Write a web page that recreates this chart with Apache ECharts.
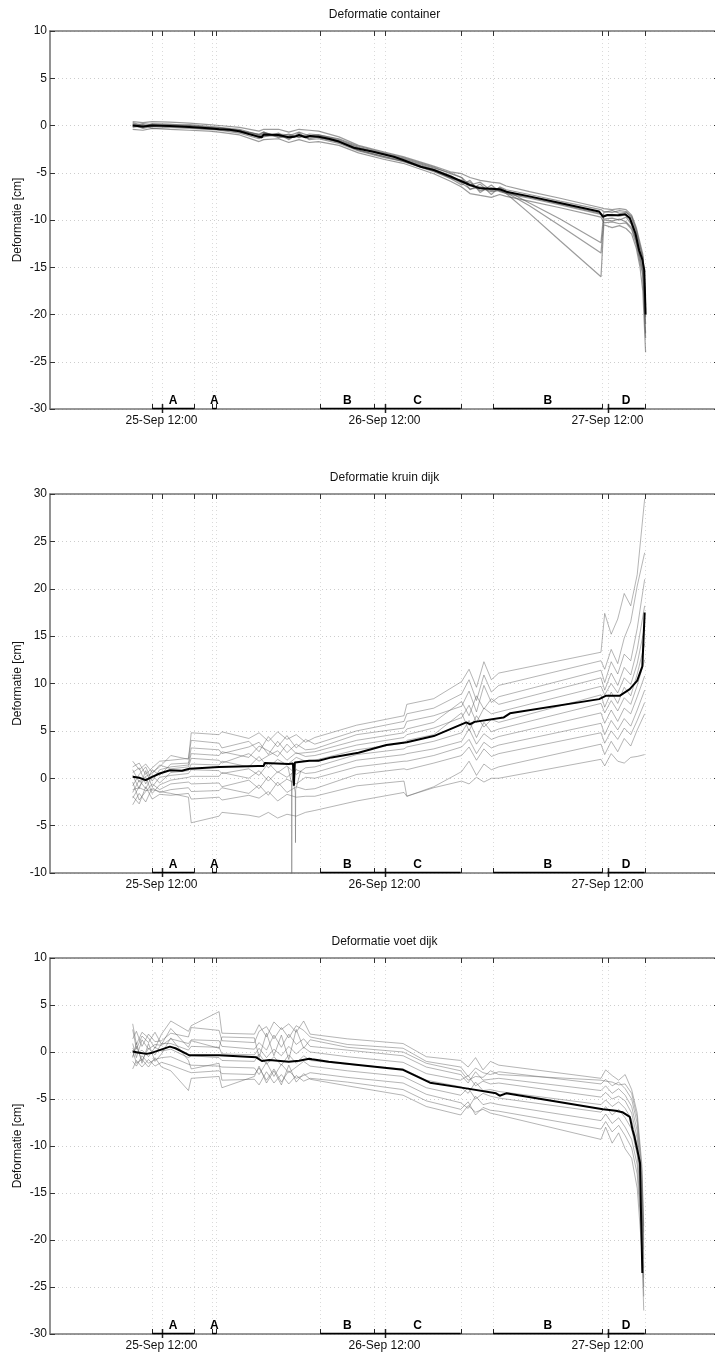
<!DOCTYPE html>
<html>
<head>
<meta charset="utf-8">
<script src="https://cdn.jsdelivr.net/npm/echarts@6/dist/echarts.min.js"></script>
<style>
  html, body { margin: 0; padding: 0; overflow: hidden; background: #fff; }
  #chart { width: 722px; height: 1355px; }
</style>
</head>
<body>
<div id="chart"></div>
<script>
// Time is expressed in hours since 25-Sep 00:00.
const xTickHours = [11, 12, 15.5, 17.45, 17.9, 29.1, 34.9, 36, 44.2, 47.7, 59.45, 60, 64];
const xLabelHours = [12, 36, 60];
const xLabelTexts = ['25-Sep 12:00', '26-Sep 12:00', '27-Sep 12:00'];

// Test phases drawn as brackets along the bottom axis
const phaseNames = ['A', 'A', 'B', 'C', 'B', 'D'];
const phaseStarts = [11, 17.45, 29.1, 34.9, 47.7, 60];
const phaseEnds = [15.5, 17.9, 34.9, 44.2, 59.45, 64];

const panelTitles = ['Deformatie container', 'Deformatie kruin dijk', 'Deformatie voet dijk'];
const yAxisName = 'Deformatie [cm]';

// ---------- Deformatie container ----------
const containerMeanTimes = [8.9,10.0,11.0,12.9,15.0,17.1,18.2,19.3,20.4,21.4,22.5,22.8,23.0,24.6,25.7,26.3,26.8,27.5,28.0,28.9,30.0,31.1,32.7,34.8,37.0,38.0,39.9,41.3,43.1,45.2,46.3,48.4,49.1,51.6,54.9,59.1,59.5,60.0,61.1,61.9,62.4,63.0,63.4,63.75,63.96,64.1];
const containerMean = [0.0,-0.1,0.0,-0.05,-0.15,-0.3,-0.4,-0.45,-0.6,-0.9,-1.2,-1.25,-0.95,-1.0,-1.25,-1.2,-1.0,-1.25,-1.1,-1.2,-1.4,-1.7,-2.35,-2.77,-3.3,-3.65,-4.36,-4.71,-5.4,-6.3,-6.65,-6.75,-7.0,-7.5,-8.2,-9.1,-9.65,-9.47,-9.5,-9.4,-9.8,-11.4,-13.2,-14.2,-15.3,-20.0];
const containerTimes = [8.9,10.0,11.0,12.9,15.0,17.1,18.2,20.4,22.5,23.0,24.6,25.7,26.8,27.9,28.9,31.1,33.2,36.0,38.0,41.3,43.1,44.3,45.2,46.3,47.5,48.4,49.1,51.6,54.9,59.3,59.6,60.5,61.3,62.0,62.6,63.1,63.5,63.8,64.1];
const containerSensor1 = [0.4,0.3,0.4,0.35,0.25,0.1,0.0,-0.2,-0.6,-0.4,-0.4,-0.7,-0.4,-0.5,-0.6,-1.2,-2.1,-2.8,-3.3,-4.3,-4.9,-5.1,-5.5,-5.8,-6.0,-6.1,-6.4,-7.0,-7.7,-8.7,-8.8,-8.9,-8.8,-8.9,-9.5,-10.8,-12.4,-13.6,-18.0];
const containerSensor2 = [-0.4,-0.5,-0.3,-0.4,-0.5,-0.6,-0.7,-1.0,-1.7,-1.5,-1.4,-1.8,-1.5,-1.8,-1.7,-2.1,-2.9,-3.6,-4.0,-5.1,-5.9,-6.5,-7.2,-7.4,-7.6,-7.3,-7.5,-8.0,-8.7,-9.7,-10.3,-10.2,-10.4,-10.3,-11.0,-12.6,-14.5,-15.8,-22.0];
const containerSensor3 = [0.2,-0.2,0.2,0.15,0.0,-0.2,-0.2,-0.4,-1.0,-0.7,-1.2,-0.9,-1.3,-0.9,-1.0,-1.5,-2.3,-3.0,-3.5,-4.5,-5.0,-5.5,-6.8,-6.2,-7.3,-6.5,-6.8,-7.3,-8.0,-8.9,-9.1,-9.2,-9.0,-9.1,-9.8,-11.2,-12.9,-14.0,-19.0];
const containerSensor4 = [-0.2,0.1,-0.3,-0.2,-0.3,-0.4,-0.5,-0.8,-1.4,-1.2,-0.8,-1.5,-0.8,-1.5,-1.4,-1.9,-2.7,-3.4,-3.8,-4.9,-5.6,-6.3,-5.8,-7.1,-6.3,-7.0,-7.2,-7.7,-8.4,-9.4,-9.9,-9.8,-10.0,-9.7,-10.5,-12.1,-13.9,-15.2,-21.0];
const containerSensor5 = [0.1,-0.3,-0.1,0.0,-0.1,-0.3,-0.3,-0.5,-1.3,-0.8,-1.1,-1.2,-1.1,-1.3,-1.1,-1.6,-2.4,-3.1,-3.6,-4.6,-5.3,-6.0,-6.0,-6.9,-6.6,-6.8,-7.1,-7.6,-8.3,-9.3,-9.5,-9.4,-9.6,-9.4,-10.1,-11.6,-13.3,-14.6,-20.3];
const containerSensor6 = [0.3,0.0,0.1,0.1,0.0,-0.2,-0.3,-0.5,-1.0,-1.0,-0.9,-1.0,-1.2,-1.1,-1.3,-1.7,-2.6,-3.3,-3.8,-4.8,-5.5,-6.1,-6.7,-6.6,-7.0,-6.9,-7.2,-9.3,-12.2,-16.0,-10.5,-10.8,-10.6,-10.9,-11.5,-13.0,-15.0,-17.5,-24.0];
const containerSensor7 = [-0.1,-0.2,0.0,-0.1,-0.2,-0.4,-0.4,-0.7,-1.1,-1.1,-1.1,-1.4,-1.0,-1.4,-1.2,-1.8,-2.6,-3.3,-3.7,-4.7,-5.6,-5.8,-6.4,-6.5,-6.8,-6.9,-7.1,-8.5,-10.6,-13.5,-10.0,-10.1,-9.9,-10.2,-10.8,-12.3,-14.1,-15.5,-22.5];
const containerSensor8 = [0.0,0.2,0.1,-0.1,0.1,-0.1,-0.2,-0.6,-0.9,-0.7,-1.3,-1.1,-0.7,-1.1,-1.0,-1.4,-2.2,-2.9,-3.4,-4.4,-5.1,-5.5,-6.3,-6.0,-6.9,-6.6,-6.9,-8.2,-9.9,-12.4,-9.2,-9.0,-9.3,-9.2,-9.6,-11.0,-12.7,-13.9,-19.5];

// ---------- Deformatie kruin dijk ----------
const kruinMeanTimes = [8.9,9.6,10.3,11.0,11.8,12.9,14.2,15.0,18.2,22.4,23.0,23.1,25.7,26.15,26.25,26.35,27.9,28.9,30.3,33.2,36.2,38.4,41.3,44.8,45.2,45.7,48.8,49.5,59.1,59.8,61.3,62.4,63.2,63.75,64.0];
const kruinMean = [0.15,0.05,-0.2,0.15,0.5,0.85,0.8,1.0,1.2,1.3,1.3,1.6,1.5,1.55,-0.8,1.65,1.85,1.85,2.2,2.7,3.5,3.8,4.45,5.9,5.7,5.95,6.4,6.85,8.35,8.7,8.7,9.4,10.3,11.8,17.5];
const kruinTimes = [8.9,9.6,10.3,11.0,11.8,13.0,14.9,15.2,18.2,18.5,21.4,22.5,23.5,24.5,25.5,26.5,27.5,28.5,33.0,38.1,38.4,41.3,44.3,45.1,45.9,46.7,47.5,48.3,59.3,59.7,60.4,61.1,61.8,62.5,63.2,64.0];
const kruinSensor1 = [1.8,0.9,1.5,0.6,1.2,2.4,2.0,4.8,4.6,4.9,4.2,4.8,3.9,4.9,4.1,4.6,3.8,4.3,5.6,6.6,7.8,8.4,10.2,11.5,9.6,12.3,10.4,11.1,13.3,17.4,15.2,16.8,19.5,18.2,21.5,29.5];
const kruinSensor2 = [1.2,1.6,0.4,1.1,1.8,1.9,2.1,4.0,3.7,3.2,3.9,2.8,4.4,3.3,4.5,3.2,4.1,3.6,5.0,6.0,6.8,7.4,8.9,10.4,8.2,10.9,9.1,9.8,12.4,11.5,13.6,12.1,14.8,16.5,20.3,23.8];
const kruinSensor3 = [0.6,1.1,-0.6,0.9,0.3,1.5,1.6,3.2,3.0,2.6,3.3,3.8,2.5,3.9,2.7,3.6,3.0,3.1,4.6,5.3,6.0,6.6,7.6,9.2,7.0,9.8,8.0,8.6,11.4,10.1,12.3,11.0,13.1,12.4,15.8,21.0];
const kruinSensor4 = [-0.8,0.4,1.2,-0.3,0.9,1.2,1.4,2.6,2.4,2.8,2.2,3.4,2.9,2.3,3.6,2.6,2.7,2.8,4.0,4.8,5.2,5.9,8.1,6.6,8.7,7.3,8.4,7.8,10.6,9.3,11.1,9.8,11.7,10.9,13.6,18.2];
const kruinSensor5 = [0.9,-0.4,0.2,0.5,1.4,1.0,1.2,2.1,1.9,1.6,2.6,1.8,2.4,2.9,1.9,2.7,2.3,2.4,3.5,4.3,4.6,5.3,6.4,7.7,5.9,7.4,6.8,7.0,9.7,8.8,10.0,9.0,10.6,9.9,12.1,16.0];
const kruinSensor6 = [-1.5,-0.2,-1.1,0.3,-0.5,0.6,0.8,1.5,1.4,1.8,1.2,2.3,1.1,2.0,1.4,2.2,1.8,1.9,3.0,3.7,4.0,4.6,6.9,5.0,6.6,5.4,6.2,5.9,8.8,7.5,9.1,7.9,9.6,8.7,11.0,14.2];
const kruinSensor7 = [0.3,-1.1,0.8,-0.9,0.1,0.3,0.5,0.9,0.8,0.5,1.0,0.3,1.6,0.6,1.3,0.4,1.1,1.2,2.5,3.1,3.3,3.9,4.8,6.1,4.3,5.9,4.9,5.2,7.9,6.9,8.2,7.1,8.5,7.8,9.8,12.5];
const kruinSensor8 = [-2.1,-0.9,0.1,-1.6,-0.7,-0.2,0.1,0.2,0.2,0.6,0.0,0.8,-0.3,0.7,0.1,0.9,0.5,0.6,1.9,2.5,2.6,3.1,3.9,5.2,3.6,4.7,4.1,4.4,6.9,5.8,7.2,6.0,7.4,6.8,8.6,10.8];
const kruinSensor9 = [-0.4,-2.3,-1.4,-0.6,-1.2,-0.6,-0.4,-0.6,-0.5,-0.9,-0.2,-1.1,0.2,-0.8,-0.1,-0.6,0.1,0.0,1.2,1.8,1.8,2.4,3.3,4.1,2.6,3.8,3.2,3.5,5.8,4.6,6.1,5.1,6.3,5.5,7.2,9.3];
const kruinSensor10 = [-2.8,-1.6,-2.5,-1.0,-1.5,-1.2,-1.0,-1.4,-1.3,-1.0,-1.6,-0.7,-1.8,-0.4,-1.5,-0.9,-1.2,-1.1,0.4,1.0,0.9,1.6,2.4,3.3,1.9,3.1,2.3,2.6,4.8,3.7,5.0,4.1,5.3,4.6,6.1,8.0];
const kruinSensor11 = [-1.9,-2.7,-0.9,-2.2,-1.7,-1.8,-1.6,-2.2,-2.0,-2.3,-1.8,-2.1,-1.4,-2.4,-1.7,-2.0,-1.9,-1.9,-0.8,-0.3,-1.9,-0.9,0.7,1.8,0.3,1.5,0.9,1.2,3.6,2.5,3.9,2.8,4.2,3.4,5.1,6.8];
const kruinSensor12 = [-1.2,-1.0,-1.3,-1.2,-1.4,-1.6,-2.0,-4.7,-4.0,-3.6,-3.9,-4.1,-3.6,-4.2,-3.8,-4.0,-3.6,-3.4,-2.4,-1.5,-1.9,-1.0,-0.3,-0.6,0.1,-0.4,0.0,0.0,2.0,1.3,2.6,1.8,1.6,2.2,2.3,2.5];
// two short sensor drop-outs
const kruinDropTimesA = [25.6, 26.0, 26.02, 26.04, 26.5];
const kruinDropValuesA = [1.2, -0.5, -16.0, -0.3, 1.0];
const kruinDropTimesB = [26.0, 26.4, 26.42, 26.44, 27.0];
const kruinDropValuesB = [0.5, -1.5, -6.8, -1.2, 0.8];

// ---------- Deformatie voet dijk ----------
const voetMeanTimes = [8.9,9.6,10.4,11.0,11.8,12.9,13.5,14.7,15.0,18.2,18.3,22.2,22.8,23.6,25.7,26.8,27.9,28.2,30.0,33.2,38.0,40.9,44.8,45.0,48.0,48.4,49.1,59.5,60.9,61.6,62.4,62.7,62.9,63.2,63.5,63.6,63.75];
const voetMean = [0.05,-0.07,-0.2,-0.07,0.2,0.57,0.4,-0.2,-0.35,-0.35,-0.5,-0.57,-0.96,-0.85,-1.03,-0.92,-0.71,-0.78,-1.03,-1.38,-1.9,-3.26,-3.87,-4.04,-4.4,-4.65,-4.4,-6.1,-6.24,-6.4,-6.9,-8.3,-9.0,-10.4,-11.8,-16.8,-23.5];
const voetTimes = [8.9,9.3,9.9,10.6,11.3,12.0,13.0,14.9,15.2,18.2,18.5,22.0,22.5,23.3,24.1,24.9,25.7,26.5,27.3,28.0,32.0,38.0,40.5,44.2,45.0,45.8,46.6,47.4,48.3,59.3,59.8,60.5,61.2,61.9,62.6,63.2,63.7,63.9];
const voetSensor1 = [3.0,0.8,2.1,1.5,0.4,1.9,3.3,2.2,2.8,4.3,2.0,1.9,2.9,1.6,3.2,2.4,3.0,2.1,3.3,1.9,1.4,0.9,-0.5,-0.9,-1.6,-0.6,-1.9,-1.0,-1.4,-2.8,-1.9,-2.5,-3.0,-2.4,-4.0,-6.5,-12.0,-18.5];
const voetSensor2 = [1.4,2.2,0.6,1.9,1.1,1.2,2.0,1.6,2.6,2.3,1.2,1.0,2.2,2.7,1.4,2.6,1.5,2.8,2.3,1.6,0.8,0.4,-1.0,-1.6,-2.6,-1.7,-2.2,-2.4,-2.1,-3.4,-2.9,-3.6,-3.2,-3.9,-5.0,-7.6,-13.4,-20.0];
const voetSensor3 = [0.9,-0.6,1.3,0.3,0.8,0.7,1.4,0.9,1.3,1.2,0.6,0.3,1.0,0.2,1.8,0.5,1.9,0.8,1.4,0.6,0.2,-0.4,-1.6,-2.4,-3.3,-2.1,-3.0,-2.9,-2.8,-4.1,-3.6,-4.4,-3.9,-4.6,-5.8,-8.4,-14.3,-21.0];
const voetSensor4 = [-0.5,0.6,-0.9,0.4,-0.3,0.9,0.9,0.2,0.6,0.5,-0.2,-0.3,0.4,-0.6,0.3,-0.4,0.6,-0.2,0.5,0.0,-0.5,-1.1,-2.3,-3.0,-2.5,-3.6,-3.1,-3.4,-3.3,-4.8,-4.3,-5.0,-4.7,-5.2,-6.5,-9.2,-15.0,-22.0];
const voetSensor5 = [0.4,-0.2,0.2,-0.5,0.5,0.1,0.3,-0.6,-0.4,-0.6,-0.9,-1.0,-0.2,-1.3,-0.5,-1.4,-0.3,-1.2,-0.4,-0.9,-1.3,-1.8,-3.0,-3.7,-4.4,-3.2,-4.1,-4.0,-4.2,-5.6,-5.1,-5.8,-5.3,-6.0,-7.2,-10.0,-16.0,-23.0];
const voetSensor6 = [-1.0,-1.5,-0.4,-1.2,-0.8,-0.6,-0.5,-1.3,-1.4,-1.5,-1.6,-1.7,-2.4,-1.1,-2.6,-1.3,-2.2,-1.6,-1.0,-1.5,-2.0,-2.6,-3.8,-4.6,-3.8,-5.0,-4.4,-4.7,-4.9,-6.4,-5.8,-6.7,-6.1,-7.0,-8.2,-11.0,-17.3,-24.0];
const voetSensor7 = [-1.8,-0.9,-1.6,-0.8,-1.5,-1.1,-1.4,-2.1,-2.2,-2.0,-2.3,-2.4,-1.7,-3.0,-1.8,-3.2,-2.0,-2.8,-2.5,-2.2,-2.7,-3.3,-4.5,-5.4,-6.0,-4.7,-5.6,-5.4,-5.6,-7.3,-6.6,-7.6,-7.0,-8.0,-9.3,-12.0,-18.6,-25.0];
const voetSensor8 = [-0.6,1.0,-1.2,0.9,-1.0,-0.2,1.5,-0.9,-1.8,-1.2,-3.0,-2.9,-3.5,-2.1,-3.3,-2.4,-3.4,-2.5,-3.1,-2.8,-3.2,-4.0,-5.2,-6.1,-5.3,-6.7,-5.9,-6.2,-6.3,-8.2,-7.4,-8.5,-7.8,-8.9,-10.2,-13.0,-19.8,-26.0];
const voetSensor9 = [0.2,-1.2,-0.8,-1.6,-0.6,-1.6,-2.0,-4.1,-2.8,-2.6,-3.8,-2.6,-1.5,-3.3,-2.0,-3.5,-1.4,-3.2,-2.3,-2.9,-3.6,-4.6,-5.8,-6.7,-5.7,-6.4,-6.1,-6.5,-6.7,-9.3,-8.0,-9.7,-8.6,-10.3,-11.3,-14.5,-21.2,-27.5];
const voetSensor10 = [2.4,0.3,1.7,1.0,2.1,0.8,2.5,0.5,1.2,0.4,1.6,1.5,-0.6,2.0,-0.4,1.8,-0.8,2.4,0.4,1.3,0.5,0.0,-1.2,-2.0,-3.0,-2.6,-2.7,-2.0,-2.4,-3.0,-3.1,-3.2,-3.5,-3.4,-4.4,-7.0,-12.6,-19.2];

// ---------- assembly ----------
const FONT = '"Liberation Sans", Arial, Helvetica, sans-serif';
const FONT_SIZE = 12;
const AXIS_COLOR = '#767676';
const TEXT_COLOR = '#111';
const GRID_COLOR = '#cdcdcd';
const VGRID_COLOR = '#dadada';

const panels = [
  { title: panelTitles[0], yMin: -30, yMax: 10, sensorStyle: 'rgba(90,90,90,0.6)', sensorWidth: 1.2,
    meanTimes: containerMeanTimes, mean: containerMean,
    sensors: [[containerTimes, containerSensor1], [containerTimes, containerSensor2], [containerTimes, containerSensor3],
              [containerTimes, containerSensor4], [containerTimes, containerSensor5], [containerTimes, containerSensor6],
              [containerTimes, containerSensor7], [containerTimes, containerSensor8]] },
  { title: panelTitles[1], yMin: -10, yMax: 30, sensorStyle: 'rgba(105,105,105,0.55)', sensorWidth: 0.9,
    meanTimes: kruinMeanTimes, mean: kruinMean,
    sensors: [[kruinTimes, kruinSensor1], [kruinTimes, kruinSensor2], [kruinTimes, kruinSensor3], [kruinTimes, kruinSensor4],
              [kruinTimes, kruinSensor5], [kruinTimes, kruinSensor6], [kruinTimes, kruinSensor7], [kruinTimes, kruinSensor8],
              [kruinTimes, kruinSensor9], [kruinTimes, kruinSensor10], [kruinTimes, kruinSensor11], [kruinTimes, kruinSensor12],
              [kruinDropTimesA, kruinDropValuesA], [kruinDropTimesB, kruinDropValuesB]] },
  { title: panelTitles[2], yMin: -30, yMax: 10, sensorStyle: 'rgba(105,105,105,0.55)', sensorWidth: 0.9,
    meanTimes: voetMeanTimes, mean: voetMean,
    sensors: [[voetTimes, voetSensor1], [voetTimes, voetSensor2], [voetTimes, voetSensor3], [voetTimes, voetSensor4],
              [voetTimes, voetSensor5], [voetTimes, voetSensor6], [voetTimes, voetSensor7], [voetTimes, voetSensor8],
              [voetTimes, voetSensor9], [voetTimes, voetSensor10]] }
];

const gridLayout = [
  { left: 50, top: 31, width: 672, height: 378 },
  { left: 50, top: 494, width: 672, height: 379 },
  { left: 50, top: 958, width: 672, height: 376 }
];

const pairUp = (times, values) => times.map((t, i) => [t, values[i]]);

function renderTicks(params, api) {
  const cs = params.coordSys;
  const h = api.value(0);
  const x = Math.round(api.coord([h, api.value(1)])[0]) + 0.5;
  const top = cs.y, bottom = cs.y + cs.height;
  const isLabelTick = xLabelHours.indexOf(h) >= 0;
  return {
    type: 'group',
    children: [
      { type: 'line', shape: { x1: x, y1: top, x2: x, y2: bottom },
        style: { stroke: VGRID_COLOR, lineWidth: 1, lineDash: [1, 3] }, silent: true },
      { type: 'line', shape: { x1: x, y1: top, x2: x, y2: top + 5 },
        style: { stroke: '#333', lineWidth: 1 }, silent: true },
      { type: 'line', shape: { x1: x, y1: bottom - 5, x2: x, y2: bottom + (isLabelTick ? 4 : 0) },
        style: { stroke: '#222', lineWidth: isLabelTick ? 1.5 : 1 }, silent: true }
    ]
  };
}

function renderPhases(params, api) {
  const cs = params.coordSys;
  const bottom = cs.y + cs.height;
  const x1 = api.coord([api.value(0), api.value(3)])[0];
  const x2 = api.coord([api.value(1), api.value(3)])[0];
  const name = phaseNames[api.value(2)];
  return {
    type: 'group',
    children: [
      { type: 'line', shape: { x1: x1, y1: bottom - 0.5, x2: x2, y2: bottom - 0.5 },
        style: { stroke: '#000', lineWidth: 1.4 }, silent: true },
      { type: 'text', silent: true,
        style: { text: name, x: (x1 + x2) / 2, y: bottom - 2, align: 'center', verticalAlign: 'bottom',
                 fill: '#000', font: 'bold ' + FONT_SIZE + 'px ' + FONT } }
    ]
  };
}

const option = {
  animation: false,
  backgroundColor: '#fff',
  textStyle: { fontFamily: FONT },
  grid: [], xAxis: [], yAxis: [], series: []
};

panels.forEach((p, i) => {
  option.grid.push(Object.assign({}, gridLayout[i]));
  const axisLine = { show: true, onZero: false, lineStyle: { color: AXIS_COLOR, width: 1.6 } };

  option.xAxis.push({
    gridIndex: i, type: 'value', min: 0, max: 72, interval: 12, position: 'bottom',
    axisLine: axisLine, axisTick: { show: false }, splitLine: { show: false },
    axisLabel: {
      margin: 6, fontSize: FONT_SIZE, color: TEXT_COLOR, fontFamily: FONT,
      formatter: v => { const k = xLabelHours.indexOf(v); return k >= 0 ? xLabelTexts[k] : ''; }
    }
  });
  option.xAxis.push({
    gridIndex: i, type: 'value', min: 0, max: 72, position: 'top',
    name: p.title, nameLocation: 'middle', nameGap: 10, nameMoveOverlap: false,
    nameTextStyle: { fontSize: FONT_SIZE, color: TEXT_COLOR, fontFamily: FONT, verticalAlign: 'bottom' },
    axisLine: axisLine, axisTick: { show: false }, axisLabel: { show: false }, splitLine: { show: false }
  });
  option.yAxis.push({
    gridIndex: i, type: 'value', min: p.yMin, max: p.yMax, interval: 5, position: 'left',
    name: yAxisName, nameLocation: 'middle', nameGap: 26, nameMoveOverlap: false,
    nameTextStyle: { fontSize: FONT_SIZE, color: TEXT_COLOR, fontFamily: FONT },
    axisLine: axisLine,
    axisTick: { show: true, inside: true, length: 5, lineStyle: { color: '#333' } },
    axisLabel: { margin: 3, fontSize: FONT_SIZE, color: TEXT_COLOR, fontFamily: FONT },
    splitLine: { show: true, lineStyle: { color: GRID_COLOR, width: 1, type: [1, 3] } }
  });
  option.yAxis.push({
    gridIndex: i, type: 'value', min: p.yMin, max: p.yMax, interval: 5, position: 'right',
    axisLine: axisLine,
    axisTick: { show: true, inside: true, length: 5, lineStyle: { color: '#333' } },
    axisLabel: { show: false }, splitLine: { show: false }
  });

  const xi = 2 * i, yi = 2 * i;

  option.series.push({
    type: 'custom', xAxisIndex: xi, yAxisIndex: yi, z: 1, silent: true,
    data: xTickHours.map(h => [h, p.yMin]), renderItem: renderTicks
  });

  p.sensors.forEach(([times, values]) => {
    option.series.push({
      type: 'line', xAxisIndex: xi, yAxisIndex: yi, z: 2, silent: true,
      data: pairUp(times, values), showSymbol: false, symbol: 'none', clip: true,
      lineStyle: { width: p.sensorWidth, color: p.sensorStyle }
    });
  });

  option.series.push({
    type: 'line', xAxisIndex: xi, yAxisIndex: yi, z: 5, silent: true,
    data: pairUp(p.meanTimes, p.mean), showSymbol: false, symbol: 'none', clip: true,
    lineStyle: { width: 2, color: '#000' }
  });

  option.series.push({
    type: 'custom', xAxisIndex: xi, yAxisIndex: yi, z: 6, silent: true,
    data: phaseStarts.map((s, k) => [s, phaseEnds[k], k, p.yMin]), renderItem: renderPhases
  });
});

const chart = echarts.init(document.getElementById('chart'), null, { renderer: 'canvas' });
chart.setOption(option);
</script>
</body>
</html>
